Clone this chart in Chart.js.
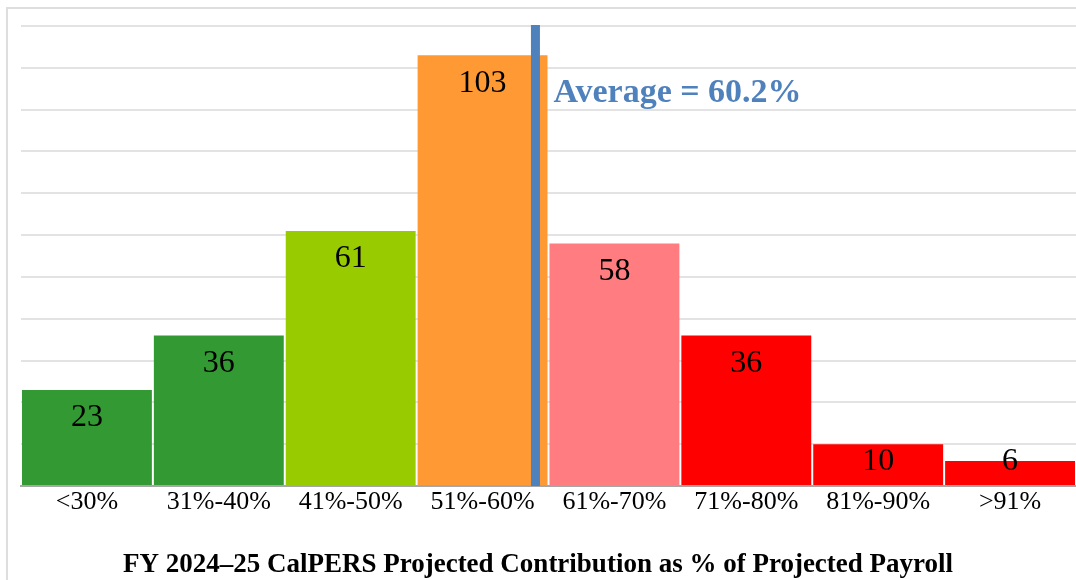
<!DOCTYPE html>
<html>
<head>
<meta charset="utf-8">
<script src="https://cdn.jsdelivr.net/npm/chart.js@4.4.1/dist/chart.umd.min.js"></script>
<style>
  html, body { margin: 0; padding: 0; background: #ffffff; }
  #wrap { width: 1076px; height: 580px; position: relative; }
</style>
</head>
<body>
<div id="wrap"><canvas id="c"></canvas></div>
<script>
// ---- data ----
const categories = ['<30%', '31%-40%', '41%-50%', '51%-60%', '61%-70%', '71%-80%', '81%-90%', '>91%'];
const counts = [23, 36, 61, 103, 58, 36, 10, 6];
const barColors = ['#339933', '#339933', '#99cc00', '#ff9933', '#ff7c80', '#ff0000', '#ff0000', '#ff0000'];
const averageValueText = 'Average = 60.2%';
const averageMarkerIndex = 3.39; // position of the average line in category-index units
const chartTitle = 'FY 2024\u201325 CalPERS Projected Contribution as % of Projected Payroll';
const yMax = 110;
const yStep = 10;

const SERIF = "'Liberation Serif', 'Times New Roman', serif";

const framePlugin = {
  id: 'frame',
  beforeDraw(chart) {
    const ctx = chart.ctx;
    ctx.save();
    ctx.fillStyle = '#ffffff';
    ctx.fillRect(0, 0, chart.width, chart.height);
    ctx.strokeStyle = '#dedede';
    ctx.lineWidth = 2;
    ctx.strokeRect(7, 8, chart.width + 50, chart.height + 50);
    ctx.restore();
  }
};

const labelPlugin = {
  id: 'barLabels',
  afterDatasetsDraw(chart) {
    const ctx = chart.ctx;
    const meta = chart.getDatasetMeta(0);
    const base = chart.scales.y.getPixelForValue(0);
    ctx.save();
    ctx.font = "32px " + SERIF;
    ctx.fillStyle = '#000000';
    ctx.textAlign = 'center';
    ctx.textBaseline = 'middle';
    meta.data.forEach((bar, i) => {
      const y = Math.min(bar.y + 28, base - 25);
      ctx.fillText(String(counts[i]), bar.x, y);
    });
    ctx.restore();
  }
};

const averagePlugin = {
  id: 'averageLine',
  afterDatasetsDraw(chart) {
    const ctx = chart.ctx;
    const xs = chart.scales.xAvg;
    const ys = chart.scales.y;
    const x = xs.getPixelForValue(averageMarkerIndex);
    ctx.save();
    ctx.strokeStyle = '#4f81bd';
    ctx.lineWidth = 9;
    ctx.beginPath();
    ctx.moveTo(x, ys.getPixelForValue(yMax) - 1);
    ctx.lineTo(x, ys.getPixelForValue(0));
    ctx.stroke();
    ctx.font = "bold 34px " + SERIF;
    ctx.fillStyle = '#4f81bd';
    ctx.textAlign = 'left';
    ctx.textBaseline = 'middle';
    ctx.fillText(averageValueText, x + 18, ys.getPixelForValue(yMax) + 67);
    ctx.restore();
  }
};

new Chart(document.getElementById('c'), {
  type: 'bar',
  data: {
    labels: categories,
    datasets: [{
      data: counts,
      backgroundColor: barColors,
      borderWidth: 0,
      categoryPercentage: 1.0,
      barPercentage: 0.985
    }]
  },
  options: {
    responsive: true,
    maintainAspectRatio: false,
    animation: false,
    layout: { padding: { left: 0, right: 0, top: 26, bottom: 0 } },
    plugins: {
      legend: { display: false },
      tooltip: { enabled: false },
      title: {
        display: true,
        position: 'bottom',
        text: chartTitle,
        color: '#000000',
        font: { family: SERIF, size: 27, weight: 'bold', lineHeight: 1.1 },
        padding: { top: 33, bottom: 0 }
      }
    },
    scales: {
      x: {
        grid: { display: false, drawTicks: false },
        border: { display: true, color: '#a6a6a6', width: 2 },
        ticks: {
          color: '#000000',
          font: { family: SERIF, size: 26 },
          padding: 0,
          maxRotation: 0,
          autoSkip: false
        }
      },
      xAvg: {
        type: 'linear',
        display: false,
        min: -0.5,
        max: categories.length - 0.5
      },
      y: {
        min: 0,
        max: yMax,
        ticks: { display: false, stepSize: yStep },
        grid: { color: '#e3e3e3', lineWidth: 2, drawTicks: false },
        border: { display: false },
        afterFit(scale) { scale.width = 21; }
      }
    }
  },
  plugins: [framePlugin, labelPlugin, averagePlugin]
});
</script>
</body>
</html>
